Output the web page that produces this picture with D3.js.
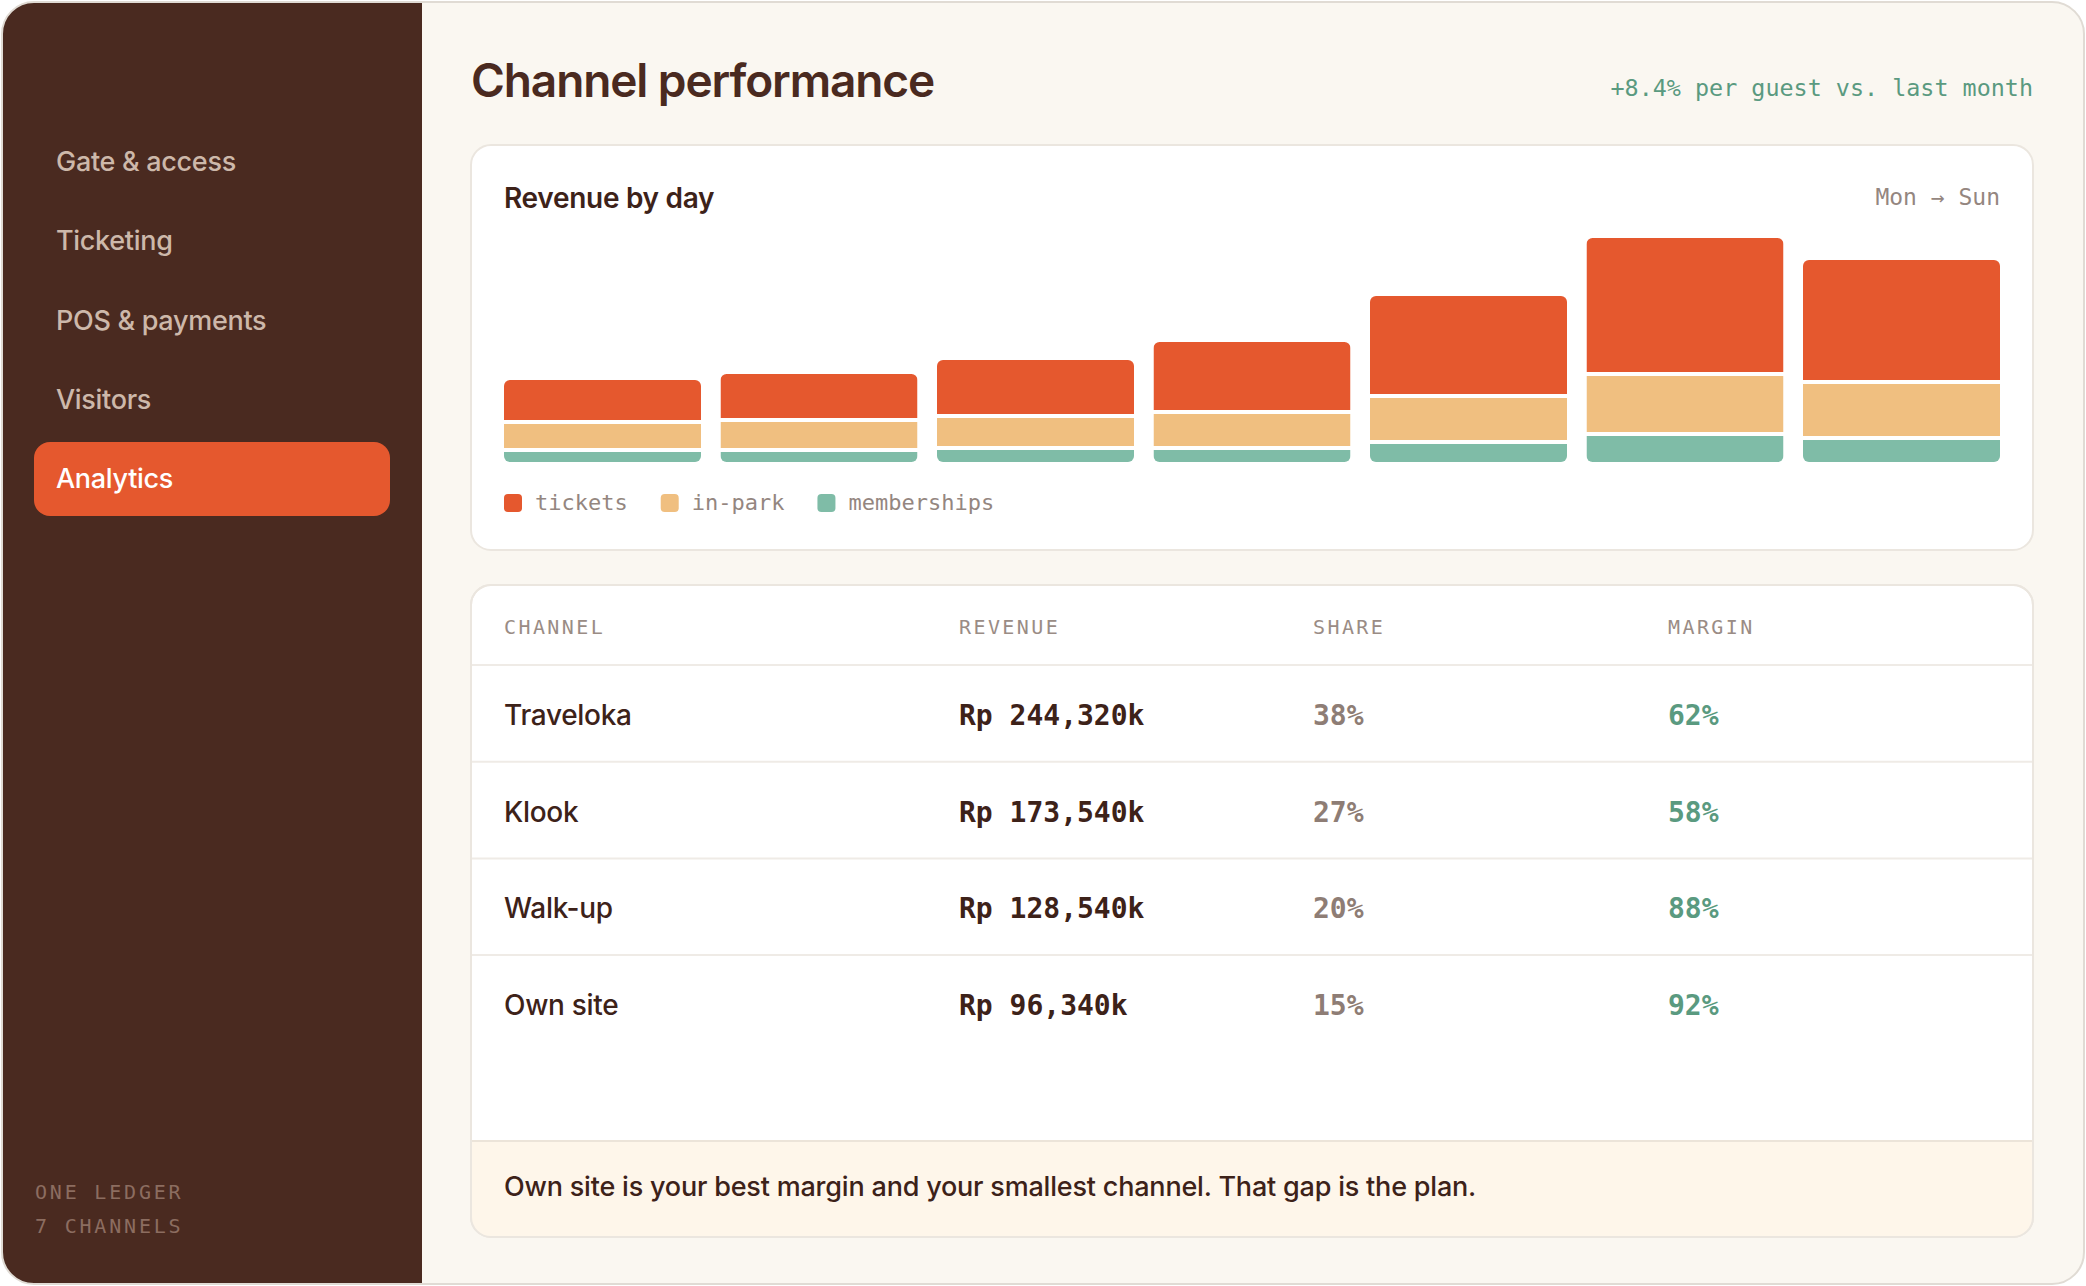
<!DOCTYPE html>
<html>
<head>
<meta charset="utf-8">
<script src="https://cdn.jsdelivr.net/npm/d3@7"></script>
<style>
  html, body { margin: 0; padding: 0; background: #ffffff; }
  svg { display: block; }
  .sans { font-family: Inter, "Noto Sans", sans-serif; }
  .mono { font-family: "DejaVu Sans Mono", "Liberation Mono", monospace; }
</style>
</head>
<body>
<div id="page"></div>
<script>
// data
const days = ['Mon', 'Tue', 'Wed', 'Thu', 'Fri', 'Sat', 'Sun']
const tickets = [22, 24, 29, 36, 51, 69, 62]
const inPark = [14, 15, 16, 18, 23, 30, 28]
const memberships = [5, 5, 6, 6, 9, 13, 11]
const seriesKeys = ['memberships', 'in-park', 'tickets']
const legendKeys = ['tickets', 'in-park', 'memberships']

const channels = ['Traveloka', 'Klook', 'Walk-up', 'Own site']
const revenueK = [244320, 173540, 128540, 96340]
const sharePct = [38, 27, 20, 15]
const marginPct = [62, 58, 88, 92]
const columns = ['CHANNEL', 'REVENUE', 'SHARE', 'MARGIN']

const navItems = ['Gate & access', 'Ticketing', 'POS & payments', 'Visitors', 'Analytics']
const activeNav = 'Analytics'

const W = 2086, H = 1286
const colors = { 'tickets': '#e5582e', 'in-park': '#f0bf80', 'memberships': '#7fbca7' }
const dark = '#4a2a20', ink = '#3d2219', muted = '#948680', green = '#5a9a80'

const svg = d3.select('#page').append('svg')
    .attr('width', W)
    .attr('height', H)

// outer frame
const frame = { x: 2, y: 2, w: 2082, h: 1282, r: 32 }
svg.append('clipPath').attr('id', 'frameClip')
    .append('rect')
    .attr('x', frame.x).attr('y', frame.y)
    .attr('width', frame.w).attr('height', frame.h)
    .attr('rx', frame.r)
svg.append('rect')
    .attr('x', frame.x).attr('y', frame.y)
    .attr('width', frame.w).attr('height', frame.h)
    .attr('rx', frame.r)
    .attr('fill', '#faf7f1')
const app = svg.append('g').attr('clip-path', 'url(#frameClip)')

// sidebar
app.append('rect')
    .attr('x', 0).attr('y', 0)
    .attr('width', 422).attr('height', H)
    .attr('fill', dark)

const navY = d3.scalePoint().domain(navItems).range([170, 487])
navItems.forEach(function (name) {
    if (name === activeNav) {
        app.append('rect')
            .attr('x', 34).attr('y', navY(name) - 45)
            .attr('width', 356).attr('height', 74)
            .attr('rx', 16)
            .attr('fill', colors.tickets)
    }
    app.append('text')
        .attr('class', 'sans')
        .attr('x', 56).attr('y', navY(name) + 1)
        .attr('font-size', 27)
        .attr('font-weight', 500)
        .attr('letter-spacing', -0.3)
        .attr('fill', name === activeNav ? '#ffffff' : '#cdb8aa')
        .text(name)
})

app.selectAll('.side-foot')
    .data(['ONE LEDGER', '7 CHANNELS'])
    .enter().append('text')
    .attr('class', 'mono side-foot')
    .attr('x', 35)
    .attr('y', (d, i) => 1199 + i * 34)
    .attr('font-size', 20)
    .attr('letter-spacing', 2.8)
    .attr('fill', '#8c6d60')
    .text(d => d)

svg.append('rect')
    .attr('x', frame.x).attr('y', frame.y)
    .attr('width', frame.w).attr('height', frame.h)
    .attr('rx', frame.r)
    .attr('fill', 'none')
    .attr('stroke', '#e0dbd4')
    .attr('stroke-width', 2)

// heading
svg.append('text')
    .attr('class', 'sans')
    .attr('x', 471).attr('y', 97)
    .attr('font-size', 46)
    .attr('font-weight', 600)
    .attr('letter-spacing', -1.1)
    .attr('fill', dark)
    .text('Channel performance')

svg.append('text')
    .attr('class', 'mono')
    .attr('x', 2033).attr('y', 96)
    .attr('text-anchor', 'end')
    .attr('font-size', 23.4)
    .attr('fill', green)
    .text('+8.4% per guest vs. last month')

// cards
const cardX = 471, cardW = 1562
function card(y, h) {
    return svg.append('rect')
        .attr('x', cardX).attr('y', y)
        .attr('width', cardW).attr('height', h)
        .attr('rx', 20)
        .attr('fill', '#ffffff')
        .attr('stroke', '#ebe6df')
        .attr('stroke-width', 2)
}
card(145, 405)

svg.append('text')
    .attr('class', 'sans')
    .attr('x', 504).attr('y', 208)
    .attr('font-size', 28)
    .attr('font-weight', 600)
    .attr('letter-spacing', -0.3)
    .attr('fill', ink)
    .text('Revenue by day')

svg.append('text')
    .attr('class', 'mono')
    .attr('x', 2000).attr('y', 205)
    .attr('text-anchor', 'end')
    .attr('font-size', 23)
    .attr('fill', muted)
    .text(days[0] + ' \u2192 ' + days[days.length - 1])

// stacked bars
const rows = days.map((d, i) => ({
    day: d,
    'tickets': tickets[i],
    'in-park': inPark[i],
    'memberships': memberships[i]
}))
const stacked = d3.stack().keys(seriesKeys)(rows)
const totals = rows.map(r => seriesKeys.reduce((s, k) => s + r[k], 0))

const x = d3.scaleBand()
    .domain(days)
    .range([504, 2000])
    .paddingInner(0.09)
    .paddingOuter(0)
const y = d3.scaleLinear()
    .domain([0, d3.max(totals)])
    .range([462, 238])
const gap = 4

const chart = svg.append('g')
const defs = svg.append('defs')
days.forEach(function (d, i) {
    defs.append('clipPath').attr('id', 'bar' + i)
        .append('rect')
        .attr('x', x(d)).attr('y', y(totals[i]))
        .attr('width', x.bandwidth())
        .attr('height', y(0) - y(totals[i]))
        .attr('rx', 6)
})

stacked.forEach(function (layer, li) {
    chart.append('g')
        .attr('fill', colors[layer.key])
        .selectAll('rect')
        .data(layer)
        .enter().append('rect')
        .attr('clip-path', (d, i) => 'url(#bar' + i + ')')
        .attr('x', d => x(d.data.day))
        .attr('y', d => y(d[1]))
        .attr('width', x.bandwidth())
        .attr('height', d => Math.max(0, y(d[0]) - y(d[1]) - (li === 0 ? 0 : gap)))
})

// legend
const legend = svg.append('g').attr('class', 'mono')
let lx = 504
legendKeys.forEach(function (k) {
    legend.append('rect')
        .attr('x', lx).attr('y', 494)
        .attr('width', 18).attr('height', 18)
        .attr('rx', 4)
        .attr('fill', colors[k])
    const t = legend.append('text')
        .attr('x', lx + 31).attr('y', 510)
        .attr('font-size', 22)
        .attr('fill', muted)
        .text(k)
    lx = lx + 31 + t.node().getComputedTextLength() + 33
})

// table card
const tableTop = 585, tableH = 652
card(tableTop, tableH)
defs.append('clipPath').attr('id', 'tableClip')
    .append('rect')
    .attr('x', cardX).attr('y', tableTop)
    .attr('width', cardW).attr('height', tableH)
    .attr('rx', 20)

const colX = d3.scaleOrdinal().domain(columns).range([504, 959, 1313, 1668])
const headerBottom = 665, rowH = 96.7
const fmt = d3.format(',')

svg.append('g').attr('class', 'mono')
    .selectAll('text')
    .data(columns)
    .enter().append('text')
    .attr('x', d => colX(d))
    .attr('y', 634)
    .attr('font-size', 20)
    .attr('letter-spacing', 2.4)
    .attr('fill', '#9a8c85')
    .text(d => d)

const lines = [headerBottom].concat(channels.slice(0, -1).map((c, i) => headerBottom + (i + 1) * rowH))
svg.append('g')
    .selectAll('line')
    .data(lines)
    .enter().append('line')
    .attr('x1', cardX + 1).attr('x2', cardX + cardW - 1)
    .attr('y1', d => d).attr('y2', d => d)
    .attr('stroke', '#efebe6')
    .attr('stroke-width', 2)

channels.forEach(function (c, i) {
    const by = headerBottom + i * rowH + 60
    svg.append('text')
        .attr('class', 'sans')
        .attr('x', colX('CHANNEL')).attr('y', by)
        .attr('font-size', 28)
        .attr('font-weight', 500)
        .attr('letter-spacing', -0.3)
        .attr('fill', ink)
        .text(c)
    svg.append('text')
        .attr('class', 'mono')
        .attr('x', colX('REVENUE')).attr('y', by)
        .attr('font-size', 28)
        .attr('font-weight', 700)
        .attr('fill', ink)
        .text('Rp ' + fmt(revenueK[i]) + 'k')
    svg.append('text')
        .attr('class', 'mono')
        .attr('x', colX('SHARE')).attr('y', by)
        .attr('font-size', 28)
        .attr('font-weight', 700)
        .attr('fill', '#8e7d75')
        .text(sharePct[i] + '%')
    svg.append('text')
        .attr('class', 'mono')
        .attr('x', colX('MARGIN')).attr('y', by)
        .attr('font-size', 28)
        .attr('font-weight', 700)
        .attr('fill', green)
        .text(marginPct[i] + '%')
})

// footer note
const footTop = 1141
const foot = svg.append('g').attr('clip-path', 'url(#tableClip)')
foot.append('rect')
    .attr('x', cardX).attr('y', footTop)
    .attr('width', cardW).attr('height', tableTop + tableH - footTop)
    .attr('fill', '#fef6ea')
foot.append('line')
    .attr('x1', cardX).attr('x2', cardX + cardW)
    .attr('y1', footTop).attr('y2', footTop)
    .attr('stroke', '#ece4d9')
    .attr('stroke-width', 2)
svg.append('rect')
    .attr('x', cardX).attr('y', tableTop)
    .attr('width', cardW).attr('height', tableH)
    .attr('rx', 20)
    .attr('fill', 'none')
    .attr('stroke', '#ebe6df')
    .attr('stroke-width', 2)

svg.append('text')
    .attr('class', 'sans')
    .attr('x', 504).attr('y', 1196)
    .attr('font-size', 27)
    .attr('font-weight', 500)
    .attr('letter-spacing', -0.2)
    .attr('fill', ink)
    .text(channels[3] + ' is your best margin and your smallest channel. That gap is the plan.')
</script>
</body>
</html>
